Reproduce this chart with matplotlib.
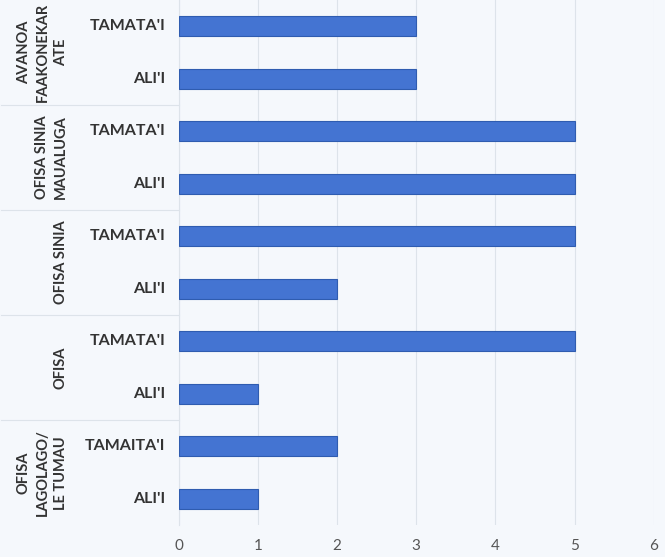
import matplotlib.pyplot as plt

# groups listed bottom to top, two bars each (bottom bar first)
groups = ['OFISA\nLAGOLAGO/\nLE TUMAU', 'OFISA', 'OFISA SINIA',
          'OFISA SINIA\nMAUALUGA', 'AVANOA\nFAAKONEKAR\nATE']
sub_labels = [["ALI'I", "TAMAITA'I"],
              ["ALI'I", "TAMATA'I"],
              ["ALI'I", "TAMATA'I"],
              ["ALI'I", "TAMATA'I"],
              ["ALI'I", "TAMATA'I"]]
values = [[1, 2], [1, 5], [2, 5], [5, 5], [3, 3]]
x_ticks = [0, 1, 2, 3, 4, 5, 6]

bg = '#f5f8fc'
bar_color = '#4474d2'
text_color = '#333333'
grid_color = '#dde3ea'
font = 'Lato'

fig = plt.figure(figsize=(6.65, 5.57), dpi=100, facecolor=bg)
ax = fig.add_axes([0.269, 0.057, 0.714, 0.943], facecolor=bg)

ypos = []
vals = []
labels = []
for g, (subs, vs) in enumerate(zip(sub_labels, values)):
    for k in range(2):
        ypos.append(g * 2 + k)
        vals.append(vs[k])
        labels.append(subs[k])

ax.barh(ypos, vals, height=0.38, color=bar_color, edgecolor='#2f5cb0', linewidth=0.8, zorder=3)
ax.set_xlim(0, 6)
ax.set_ylim(-0.5, len(ypos) - 0.5)
ax.set_xticks(x_ticks)
ax.set_xticklabels([str(t) for t in x_ticks], fontsize=11, color='#555555', family=font)
ax.tick_params(axis='x', length=0, pad=10)
ax.set_yticks([])
ax.grid(axis='x', color=grid_color, linewidth=0.8, zorder=0)
for s in ['top', 'right', 'bottom']:
    ax.spines[s].set_visible(False)
ax.spines['left'].set_color(grid_color)

trans = ax.get_yaxis_transform()
for y, lab in zip(ypos, labels):
    ax.text(-0.028, y, lab, transform=trans, ha='right', va='center',
            fontsize=11.5, fontweight='bold', color=text_color, family=font)

for g, name in enumerate(groups):
    ax.text(-0.234, g * 2 + 0.5, name, transform=trans, rotation=90,
            ha='right', va='center', multialignment='center', linespacing=1.4,
            fontsize=10.5, fontweight='bold', color=text_color, family=font)

# separators between groups in the label area
for g in range(1, len(groups)):
    ax.plot([-0.375, 0], [g * 2 - 0.5] * 2, transform=trans, color=grid_color,
            linewidth=0.8, clip_on=False)

fig.savefig('out.png', dpi=100, facecolor=bg)
